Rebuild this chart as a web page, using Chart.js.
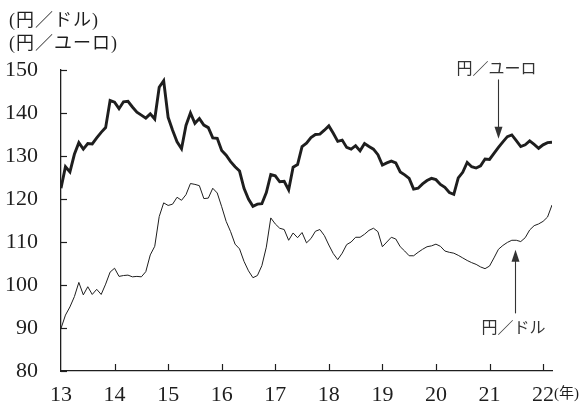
<!DOCTYPE html>
<html lang="ja">
<head>
<meta charset="utf-8">
<style>
  html, body { margin: 0; padding: 0; background: #fff; }
</style>
<script src="https://cdn.jsdelivr.net/npm/chart.js@4.4.1/dist/chart.umd.min.js"></script>
</head>
<body>
<canvas id="myChart" width="583" height="406"></canvas>
<script>
// monthly series, Jan 2013 - Mar 2022
const startYear = 2013;
const yenPerEuro = [
  122.5, 127.5, 126.3, 130.4, 133.1, 131.6, 132.9, 132.8, 134.2, 135.5, 136.6, 142.9,
  142.5, 141.0, 142.6, 142.7, 141.4, 140.2, 139.5, 138.8, 139.8, 138.6, 146.0, 147.5,
  139.0, 136.0, 133.3, 131.7, 137.1, 140.0, 137.6, 138.7, 137.2, 136.6, 134.2, 134.1,
  131.3, 130.2, 128.7, 127.5, 126.5, 122.5, 120.0, 118.3, 118.8, 118.9, 121.5, 125.7,
  125.4, 124.0, 124.1, 122.1, 127.4, 128.0, 132.2, 133.0, 134.3, 135.0, 135.1, 136.0,
  137.0, 135.3, 133.4, 133.7, 132.0, 131.6, 132.4, 131.2, 132.9, 132.2, 131.6, 130.3,
  127.9, 128.4, 128.8, 128.4, 126.3, 125.6, 124.8, 122.3, 122.5, 123.5, 124.3, 124.8,
  124.5, 123.4, 122.7, 121.5, 121.1, 124.9, 126.2, 128.5, 127.5, 127.2, 127.7, 129.3,
  129.2, 130.6, 132.0, 133.3, 134.5, 134.9, 133.6, 132.2, 132.6, 133.5, 132.7, 131.8,
  132.6, 133.1, 133.2
];
const yenPerDollar = [
  89.9, 93.0, 94.9, 97.3, 100.6, 97.7, 99.6, 97.8, 99.0, 97.8, 100.2, 103.0,
  103.9, 102.0, 102.2, 102.3, 101.9, 102.0, 101.9, 103.1, 107.0, 109.0, 115.9, 119.1,
  118.5, 118.8, 120.4, 119.7, 121.0, 123.6, 123.4, 123.1, 120.1, 120.2, 122.5, 121.4,
  118.2, 114.8, 112.4, 109.5, 108.4, 105.5, 103.3, 101.7, 102.2, 104.5, 108.8, 115.6,
  114.2, 113.2, 112.9, 110.4, 112.1, 111.0, 112.2, 109.8, 110.8, 112.5, 112.9, 111.5,
  109.3, 107.3, 105.9, 107.4, 109.4, 110.0, 111.1, 111.1, 111.8, 112.7, 113.2, 112.4,
  108.9, 110.0, 111.1, 110.7, 108.9, 107.9, 106.8, 106.8, 107.6, 108.3, 108.9, 109.1,
  109.5, 109.0, 107.9, 107.6, 107.4, 106.9, 106.3, 105.7, 105.2, 104.8, 104.2, 103.8,
  104.4, 106.3, 108.3, 109.2, 109.9, 110.4, 110.4, 110.1, 111.0, 112.8, 113.8, 114.2,
  114.8, 115.8, 118.6
];
const yearTicks = [2013, 2014, 2015, 2016, 2017, 2018, 2019, 2020, 2021, 2022];
const valueTicks = [80, 90, 100, 110, 120, 130, 140, 150];
const unitLabels = ["(円／ドル)", "(円／ユーロ)"];
const yearUnit = "(年)";

// arrow notes: x in years, values on the yen scale
const euroNote = { text: "円／ユーロ", x: 2021.15, label: 150.5, from: 147.8, to: 134.0 };
const dollarNote = { text: "円／ドル", x: 2021.47, label: 90.2, from: 93.4, to: 108.2 };

const months = yenPerEuro.map((_, i) => startYear + i / 12);
const toPoints = (arr) => arr.map((v, i) => ({ x: months[i], y: v }));

const ink = "#1e1e1e";
const serif = '"Liberation Serif", "DejaVu Serif", serif';
const jp = '"Liberation Serif", "Noto Sans CJK JP", sans-serif';

const drawArrow = (ctx, px, yFrom, yTo) => {
  const dir = yTo > yFrom ? 1 : -1;
  ctx.beginPath();
  ctx.moveTo(px, yFrom);
  ctx.lineTo(px, yTo - dir * 10);
  ctx.stroke();
  ctx.beginPath();
  ctx.moveTo(px, yTo);
  ctx.lineTo(px - 4, yTo - dir * 12);
  ctx.lineTo(px + 4, yTo - dir * 12);
  ctx.closePath();
  ctx.fill();
};

const overlay = {
  id: "overlay",
  afterDraw(chart) {
    const { ctx, chartArea } = chart;
    const x = chart.scales.x;
    const y = chart.scales.y;
    ctx.save();
    ctx.strokeStyle = ink;
    ctx.fillStyle = ink;
    ctx.lineWidth = 1.2;

    // inward tick marks
    valueTicks.forEach((v) => {
      const py = Math.round(y.getPixelForValue(v)) + 0.5;
      ctx.beginPath();
      ctx.moveTo(chartArea.left, py);
      ctx.lineTo(chartArea.left + 6, py);
      ctx.stroke();
    });
    yearTicks.forEach((v) => {
      if (v === startYear) return;
      const px = Math.round(x.getPixelForValue(v)) + 0.5;
      ctx.beginPath();
      ctx.moveTo(px, chartArea.bottom);
      ctx.lineTo(px, chartArea.bottom - 7);
      ctx.stroke();
    });

    // unit captions
    ctx.textBaseline = "middle";
    ctx.textAlign = "left";
    ctx.font = "18px " + jp;
    ctx.letterSpacing = "1px";
    ctx.fillText(unitLabels[0], 9, 21);
    ctx.fillText(unitLabels[1], 9, 44);
    ctx.letterSpacing = "0px";
    ctx.font = "15px " + jp;
    ctx.fillText(yearUnit, x.getPixelForValue(2022) + 11, chartArea.bottom + 23);

    // notes with arrows
    ctx.fillStyle = "#333";
    ctx.strokeStyle = "#333";
    ctx.lineWidth = 1.1;
    ctx.textAlign = "center";
    ctx.font = '16px "Noto Sans CJK JP", sans-serif';
    [euroNote, dollarNote].forEach((n) => {
      const px = Math.round(x.getPixelForValue(n.x)) + 0.5;
      ctx.fillText(n.text, px - 2, y.getPixelForValue(n.label));
      drawArrow(ctx, px, y.getPixelForValue(n.from), y.getPixelForValue(n.to));
    });
    ctx.restore();
  },
};

const ctx = document.getElementById("myChart").getContext("2d");
const rateChart = new Chart(ctx, {
  type: "line",
  data: {
    datasets: [
      {
        label: "円／ユーロ",
        data: toPoints(yenPerEuro),
        borderColor: ink,
        borderWidth: 2.9,
        pointRadius: 0,
        tension: 0,
      },
      {
        label: "円／ドル",
        data: toPoints(yenPerDollar),
        borderColor: ink,
        borderWidth: 1,
        pointRadius: 0,
        tension: 0,
      },
    ],
  },
  options: {
    responsive: false,
    animation: false,
    devicePixelRatio: 1,
    layout: { padding: { top: 70, right: 31, left: 0, bottom: 0 } },
    plugins: { legend: { display: false }, tooltip: { enabled: false } },
    scales: {
      x: {
        type: "linear",
        min: startYear,
        max: months[months.length - 1],
        afterBuildTicks: (s) => {
          s.ticks = yearTicks.map((v) => ({ value: v }));
        },
        afterFit: (s) => {
          s.height = 35;
        },
        grid: { display: false },
        border: { display: true, color: ink, width: 1.3 },
        ticks: {
          color: ink,
          font: { family: serif, size: 22 },
          padding: 3,
          maxRotation: 0,
          callback: (v) => String(v).slice(2),
        },
      },
      y: {
        min: 80,
        max: 150,
        afterBuildTicks: (s) => {
          s.ticks = valueTicks.map((v) => ({ value: v }));
        },
        afterFit: (s) => {
          s.width = 61;
        },
        grid: { display: false },
        border: { display: true, color: ink, width: 1.3 },
        ticks: {
          color: ink,
          font: { family: serif, size: 22 },
          padding: 15,
        },
      },
    },
  },
  plugins: [overlay],
});
</script>
</body>
</html>
